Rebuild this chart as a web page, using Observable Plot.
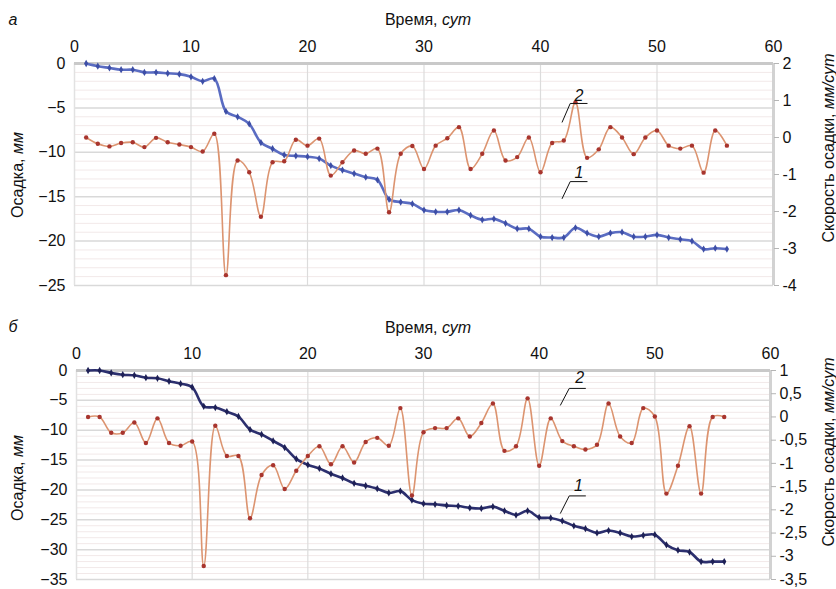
<!DOCTYPE html>
<html><head><meta charset="utf-8">
<script src="https://cdn.jsdelivr.net/npm/d3@7"></script>
<script src="https://cdn.jsdelivr.net/npm/@observablehq/plot@0.6"></script>
<style>
body{margin:0;background:#fff;font-family:"Liberation Sans",Arial,sans-serif;}
#wrap{position:relative;width:836px;height:589px;overflow:hidden;background:#fff;}
.t{position:absolute;font-size:16px;color:#111;white-space:nowrap;line-height:1;transform:translate(-50%,-50%);}
.rot{transform:translate(-50%,-50%) rotate(-90deg);}
i{font-style:italic;}
</style></head>
<body>
<div id="wrap">
  <div id="p1" style="position:absolute;left:0;top:0"></div>
  <div id="p2" style="position:absolute;left:0;top:295px"></div>
  <div class="t" style="left:13px;top:20px"><i>а</i></div>
  <div class="t" style="left:428px;top:20px">Время, <i>сут</i></div>
  <div class="t rot" style="left:18px;top:175px">Осадка, <i>мм</i></div>
  <div class="t rot" style="left:829px;top:148px">Скорость осадки, <i>мм/сут</i></div>
  <div class="t" style="left:13px;top:327px"><i>б</i></div>
  <div class="t" style="left:428px;top:328px">Время, <i>сут</i></div>
  <div class="t rot" style="left:18px;top:478px">Осадка, <i>мм</i></div>
  <div class="t rot" style="left:829px;top:452px">Скорость осадки, <i>мм/сут</i></div>
</div>
<script>
const days = [1,2,3,4,5,6,7,8,9,10,11,12,13,14,15,16,17,18,19,20,21,22,23,24,25,26,27,28,29,30,31,32,33,34,35,36,37,38,39,40,41,42,43,44,45,46,47,48,49,50,51,52,53,54,55,56];
const xTicks = [0,10,20,30,40,50,60];

// Panel а
const settleA = [0,-0.3,-0.5,-0.7,-0.7,-1.0,-1.0,-1.1,-1.2,-1.5,-2.0,-1.7,-5.4,-6.0,-6.8,-8.9,-9.6,-10.3,-10.4,-10.5,-10.7,-11.5,-12.0,-12.4,-12.8,-13.1,-15.3,-15.6,-15.8,-16.5,-16.7,-16.7,-16.5,-17.1,-17.6,-17.5,-18.0,-18.6,-18.6,-19.5,-19.6,-19.6,-18.5,-19.1,-19.5,-19.1,-19.0,-19.5,-19.5,-19.3,-19.6,-19.8,-20.0,-20.9,-20.8,-20.9];
const rateA = [0.0,-0.17,-0.24,-0.15,-0.13,-0.26,-0.01,-0.13,-0.19,-0.26,-0.38,0.1,-3.72,-0.62,-0.94,-2.14,-0.67,-0.64,-0.06,-0.22,-0.03,-1.03,-0.67,-0.35,-0.44,-0.3,-2.02,-0.44,-0.23,-0.85,-0.22,-0.02,0.28,-0.85,-0.44,0.19,-0.62,-0.53,0.0,-0.94,-0.15,-0.08,0.95,-0.55,-0.32,0.28,0.0,-0.45,0.0,0.19,-0.22,-0.3,-0.22,-0.95,0.19,-0.22];
const leftTicksA = [0,-5,-10,-15,-20,-25];
const rightTicksA = [2,1,0,-1,-2,-3,-4];
const annotA = [
  {label:"2", tx:43.3, ty:-3.6, pts:[[41.86,-6.6],[42.55,-4.5],[44.0,-4.5]]},
  {label:"1", tx:43.3, ty:-12.3, pts:[[41.86,-15.2],[42.55,-13.3],[44.0,-13.3]]}
];

// Panel б
const settleB = [0,0,-0.4,-0.7,-0.8,-1.2,-1.3,-1.8,-2.2,-2.8,-6.0,-6.2,-6.9,-7.7,-9.9,-10.7,-11.8,-12.9,-14.8,-15.8,-16.4,-17.3,-18.0,-18.9,-19.3,-19.8,-20.5,-20.2,-21.7,-22.3,-22.4,-22.6,-22.7,-23.0,-23.1,-22.8,-23.5,-24.2,-23.5,-24.6,-24.7,-25.2,-26.0,-26.5,-27.2,-26.8,-27.2,-27.8,-27.6,-27.5,-29.2,-30.1,-30.4,-32.0,-32.0,-32.0];
const rateB = [0.0,0.0,-0.34,-0.34,-0.12,-0.56,-0.03,-0.56,-0.62,-0.53,-3.21,-0.19,-0.84,-0.84,-2.18,-1.25,-1.04,-1.55,-1.16,-0.84,-0.63,-1.02,-0.63,-0.98,-0.54,-0.45,-0.62,0.19,-1.69,-0.33,-0.24,-0.24,-0.03,-0.42,-0.13,0.29,-0.73,-0.63,0.40,-1.05,-0.03,-0.52,-0.63,-0.70,-0.6,0.29,-0.42,-0.56,0.19,0.01,-1.65,-1.05,-0.2,-1.65,0.0,0.0];
const leftTicksB = [0,-5,-10,-15,-20,-25,-30,-35];
const rightTicksB = [1,0.5,0,-0.5,-1,-1.5,-2,-2.5,-3,-3.5];
const annotB = [
  {label:"2", tx:43.5, ty:-1.3, pts:[[41.84,-5.8],[42.6,-3.0],[44.0,-3.0]]},
  {label:"1", tx:43.4, ty:-19.3, pts:[[41.84,-23.9],[42.6,-21.0],[44.0,-21.0]]}
];

const fmt = r => { const v = Math.round(r*10)/10; return (Object.is(v,-0)?"0":String(v)).replace(".", ","); };

function panel(o) {
  const [y0, y1] = o.yDom, [r0, r1] = o.rDom;
  const toY = r => y0 + (r - r0) / (r1 - r0) * (y1 - y0);
  const toR = y => r0 + (y - y0) / (y1 - y0) * (r1 - r0);
  const sData = days.map((d, i) => ({d, v: o.settle[i]}));
  const rData = days.map((d, i) => ({d, v: toY(o.rate[i])}));
  const minor = d3.range(y0, y1, 1).filter(v => v % 5 !== 0);
  const annPts = o.annot.flatMap(a => a.pts.map(p => ({label: a.label, d: p[0], v: p[1]})));
  return Plot.plot({
    width: 836, height: o.height,
    marginLeft: o.ml, marginRight: o.mr, marginTop: o.mt, marginBottom: o.mb,
    style: {fontFamily: '"Liberation Sans", Arial, sans-serif', fontSize: "16px", color: "#111", background: "transparent", overflow: "visible"},
    x: {domain: [0, 60], axis: null},
    y: {domain: o.yDom, axis: null},
    marks: [
      Plot.gridY(minor, {stroke: "#f2e9e9", strokeOpacity: 1}),
      Plot.gridY(o.leftTicks, {stroke: "#d9d9d9", strokeOpacity: 1, strokeWidth: 1.5}),
      Plot.gridX([10, 20, 30, 40, 50], {stroke: "#dcdcdc", strokeOpacity: 1, strokeWidth: 1.2}),
      Plot.ruleX([0], {stroke: "#e2e2e2", strokeWidth: 1.5}),
      Plot.ruleX([60], {stroke: "#d2d2d2", strokeWidth: 3}),
      Plot.ruleY([y1], {stroke: "#c9c9c9", strokeWidth: 3}),
      Plot.axisX(xTicks, {anchor: "top", tickSize: 0, tickPadding: 12, label: null, fontSize: 16}),
      Plot.axisY(o.leftTicks, {anchor: "left", tickSize: 0, tickPadding: 9, label: null, fontSize: 16}),
      Plot.axisY(o.rightTicks.map(toY), {anchor: "right", tickSize: 5, tickPadding: 4, stroke: "#b5b5b5", fill: "#111", label: null, fontSize: 16, tickFormat: v => fmt(toR(v))}),
      Plot.line(sData, {x: "d", y: "v", stroke: o.blue, strokeWidth: 2.6, curve: "catmull-rom"}),
      Plot.dot(sData, {x: "d", y: "v", fill: o.blueDark, r: 2.2, symbol: "diamond"}),
      Plot.line(rData, {x: "d", y: "v", stroke: "#dc9470", strokeWidth: 1.6, curve: "catmull-rom"}),
      Plot.dot(rData, {x: "d", y: "v", fill: "#a8352e", r: 2.2}),
      Plot.line(annPts, {x: "d", y: "v", z: "label", stroke: "#111", strokeWidth: 1}),
      Plot.text(o.annot, {x: "tx", y: "ty", text: "label", fontStyle: "italic", fontSize: 16, fill: "#111"})
    ]
  });
}

document.getElementById("p1").append(panel({
  settle: settleA, rate: rateA, yDom: [-25, 0], rDom: [-4, 2],
  leftTicks: leftTicksA, rightTicks: rightTicksA, annot: annotA,
  height: 295, ml: 74, mr: 63, mt: 63, mb: 10,
  blue: "#5a6cc2", blueDark: "#3d4ea6"
}));
document.getElementById("p2").append(panel({
  settle: settleB, rate: rateB, yDom: [-35, 0], rDom: [-3.5, 1],
  leftTicksB: null, leftTicks: leftTicksB, rightTicks: rightTicksB, annot: annotB,
  height: 294, ml: 76, mr: 66, mt: 75, mb: 10,
  blue: "#2c2f6e", blueDark: "#1e2056"
}));
</script>
</body></html>
